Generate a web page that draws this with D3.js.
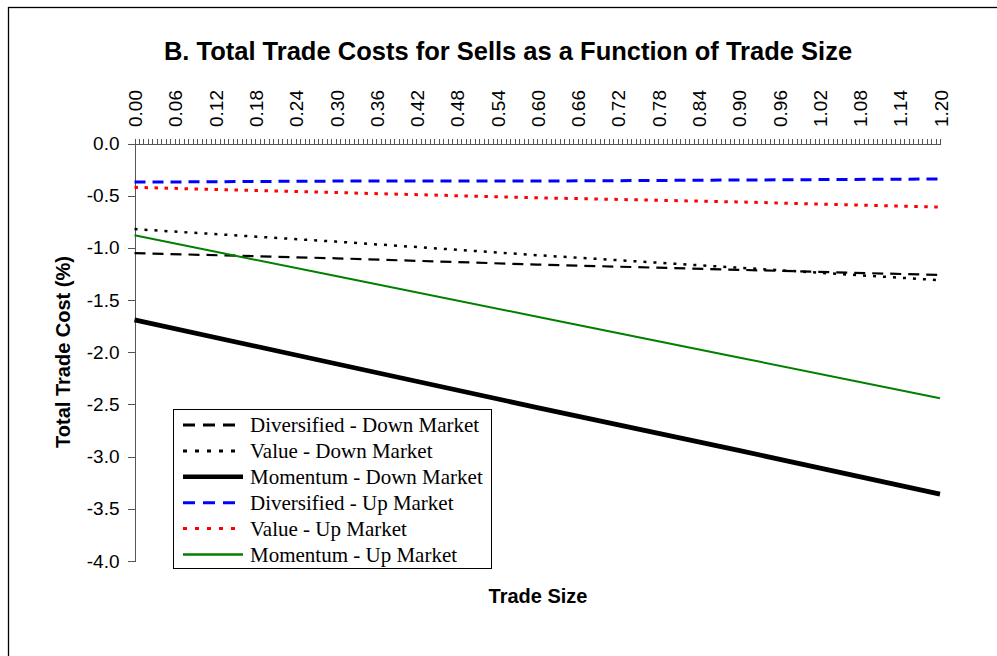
<!DOCTYPE html>
<html>
<head>
<meta charset="utf-8">
<script src="https://cdn.jsdelivr.net/npm/d3@7"></script>
<style>
body { margin: 0; background: #fff; }
svg { display: block; }
</style>
</head>
<body>
<svg id="app" width="997" height="656"></svg>
<script>
let svg = d3.select('#app')

const tradeSizes = [0.00, 0.30, 0.60, 0.90, 1.20]

const divDown = [-1.05, -1.10, -1.16, -1.21, -1.26]
const valDown = [-0.82, -0.94, -1.07, -1.19, -1.31]
const momDown = [-1.69, -2.11, -2.53, -2.94, -3.36]
const divUp = [-0.37, -0.36, -0.36, -0.35, -0.34]
const valUp = [-0.42, -0.47, -0.52, -0.56, -0.61]
const momUp = [-0.88, -1.27, -1.66, -2.05, -2.44]

const seriesNames = [
  'Diversified - Down Market',
  'Value - Down Market',
  'Momentum - Down Market',
  'Diversified - Up Market',
  'Value - Up Market',
  'Momentum - Up Market',
]

const xLabels = ['0.00','0.06','0.12','0.18','0.24','0.30','0.36','0.42','0.48','0.54','0.60',
  '0.66','0.72','0.78','0.84','0.90','0.96','1.02','1.08','1.14','1.20']
const yLabels = [0, -0.5, -1, -1.5, -2, -2.5, -3, -3.5, -4]

const styles = [
  {color: '#000000', width: 2.2, dash: '11,7', legendWidth: 3},
  {color: '#000000', width: 2.5, dash: '3,7', legendWidth: 3},
  {color: '#000000', width: 4.8, dash: null, legendWidth: 4.5},
  {color: '#0000ff', width: 3, dash: '11,7', legendWidth: 3},
  {color: '#ff0000', width: 3, dash: '3.5,6.5', legendWidth: 3},
  {color: '#008000', width: 2, dash: null, legendWidth: 2.5},
]

const series = [divDown, valDown, momDown, divUp, valUp, momUp].map((vals, i) => ({
  name: seriesNames[i],
  values: vals.map((v, j) => ({x: tradeSizes[j], y: v})),
  style: styles[i],
}))

const x = d3.scaleLinear().domain([0, 1.2]).range([134.5, 940])
const y = d3.scaleLinear().domain([-4, 0]).range([561, 143.5])

// outer frame
svg.append('rect')
.attr('x', 8.5).attr('y', 7.5)
.attr('width', 1100).attr('height', 800)
.attr('fill', 'none')
.attr('stroke', '#000')
.attr('stroke-width', 1.3)

svg.append('text')
.attr('x', 508).attr('y', 60)
.attr('text-anchor', 'middle')
.attr('font-family', 'Liberation Sans, Arial, sans-serif')
.attr('font-weight', 'bold')
.attr('font-size', 25.5)
.text('B. Total Trade Costs for Sells as a Function of Trade Size')

// y axis
let yAxisG = svg.append('g')
.attr('transform', 'translate(134.5,0)')
.call(d3.axisLeft(y).tickValues(yLabels).tickSize(7).tickPadding(8).tickSizeOuter(0))
yAxisG.selectAll('line, path').attr('stroke', '#555').attr('shape-rendering', 'crispEdges')
yAxisG.selectAll('text')
.attr('font-family', 'Liberation Sans, Arial, sans-serif')
.attr('font-size', 19)
.attr('fill', '#000')
.text(d => d3.format('.1f')(d).replace('−', '-'))

// x axis on top, minor tick for every category
const catTicks = d3.range(181).map(i => i * 1.2 / 180)
let xAxisG = svg.append('g')
.attr('transform', 'translate(0,143.5)')
.call(d3.axisTop(x).tickValues(catTicks).tickSize(4.5).tickFormat('').tickSizeOuter(0))
xAxisG.selectAll('line, path').attr('stroke', '#555').attr('shape-rendering', 'crispEdges')

svg.append('g').selectAll('text')
.data(xLabels)
.enter()
.append('text')
.attr('transform', d => `translate(${x(+d) + 1},127) rotate(-90)`)
.attr('dy', '0.35em')
.attr('text-anchor', 'start')
.attr('font-family', 'Liberation Sans, Arial, sans-serif')
.attr('font-size', 19)
.text(d => d)

svg.append('text')
.attr('transform', 'translate(70,352) rotate(-90)')
.attr('text-anchor', 'middle')
.attr('font-family', 'Liberation Sans, Arial, sans-serif')
.attr('font-weight', 'bold')
.attr('font-size', 20)
.text('Total Trade Cost (%)')

svg.append('text')
.attr('x', 538).attr('y', 603)
.attr('text-anchor', 'middle')
.attr('font-family', 'Liberation Sans, Arial, sans-serif')
.attr('font-weight', 'bold')
.attr('font-size', 20)
.text('Trade Size')

let line = d3.line().x(d => x(d.x)).y(d => y(d.y))

svg.append('g').selectAll('path')
.data(series)
.enter()
.append('path')
.attr('d', d => line(d.values))
.attr('fill', 'none')
.attr('stroke', d => d.style.color)
.attr('stroke-width', d => d.style.width)
.attr('stroke-dasharray', d => d.style.dash)

// legend
let legend = svg.append('g')
legend.append('rect')
.attr('x', 173.5).attr('y', 409.5)
.attr('width', 318).attr('height', 159)
.attr('fill', '#fff')
.attr('stroke', '#000')
.attr('stroke-width', 1)

let rows = legend.selectAll('g.row')
.data(series)
.enter()
.append('g')
.attr('class', 'row')
.attr('transform', (d, i) => `translate(0,${425 + i * 25.9})`)

rows.append('line')
.attr('x1', 183).attr('x2', 243)
.attr('stroke', d => d.style.color)
.attr('stroke-width', d => d.style.legendWidth)
.attr('stroke-dasharray', d => d.style.dash ? (d.style.dash === '11,7' ? '12,8' : '4,8') : null)

rows.append('text')
.attr('x', 250).attr('y', 7)
.attr('font-family', 'Liberation Serif, Times New Roman, serif')
.attr('font-size', 21)
.text(d => d.name)
</script>
</body>
</html>
